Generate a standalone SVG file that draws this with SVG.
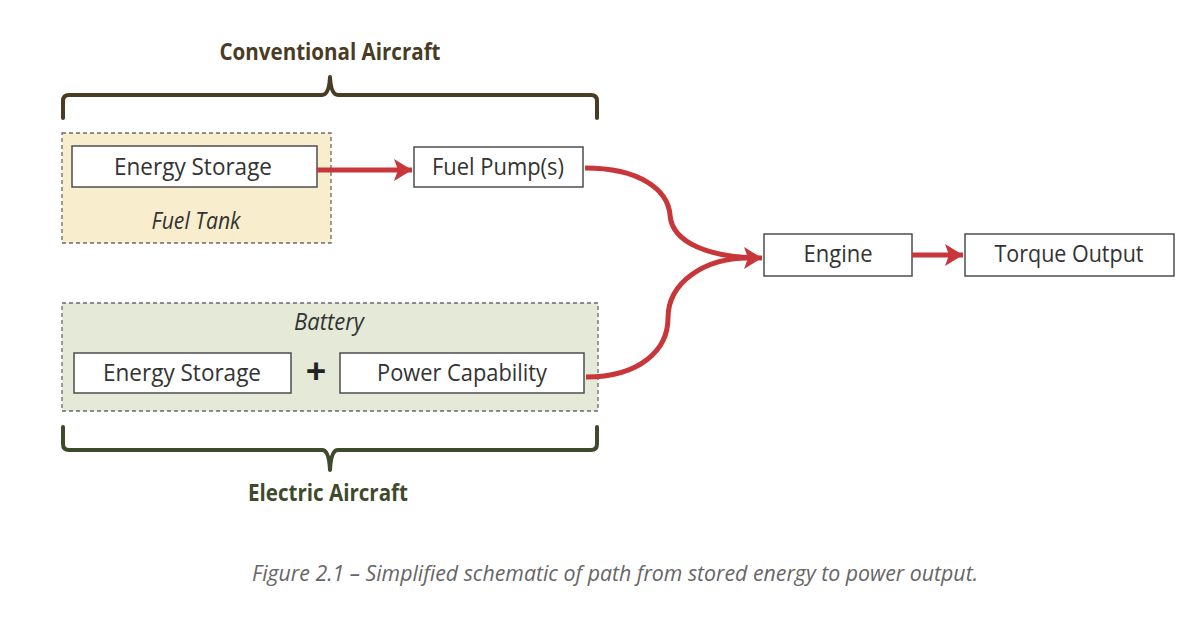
<svg xmlns="http://www.w3.org/2000/svg" width="1200" height="617" viewBox="0 0 1200 617">
<style>
.bg{fill:#ffffff}
.box{fill:#ffffff;stroke:#4d4d4d;stroke-width:1.5}
.grp{stroke:#6a6a6a;stroke-width:1.3;stroke-dasharray:4 3}
.lbl{font-family:"Open Sans","Noto Sans",sans-serif;font-size:23px;fill:#333333;text-anchor:middle}
.it{font-style:italic}
.title{font-family:"Open Sans","Noto Sans",sans-serif;font-size:24px;font-weight:bold;text-anchor:middle}
.plus{font-family:"Open Sans","Noto Sans",sans-serif;font-size:36px;font-weight:bold;fill:#222222;text-anchor:middle}
.cap{font-family:"Open Sans","Noto Sans",sans-serif;font-size:22px;font-style:italic;fill:#666666;text-anchor:middle}
.conn{fill:none;stroke:#c8363a;stroke-width:5}
.brace{fill:none;stroke-width:4;stroke-linecap:round;stroke-linejoin:round}
</style>
<defs>
<marker id="ah" markerUnits="userSpaceOnUse" markerWidth="20" markerHeight="22" refX="18" refY="11" orient="auto" viewBox="0 0 20 22">
<polygon points="0,0 18,11 0,22 4,11" fill="#c8363a"/>
</marker>
</defs>
<rect class="bg" x="0" y="0" width="1200" height="617"/>

<g id="conventional-brace">
<path class="brace" stroke="#4a3c24" d="M63,118 V101 Q63,95 69,95 H322 Q329,95 330,77 Q331,95 338,95 H591 Q597,95 597,101 V118"/>
<text class="title" fill="#4a3c24" x="330" y="60" textLength="221" lengthAdjust="spacingAndGlyphs">Conventional Aircraft</text>
</g>

<g id="fuel-tank">
<rect class="grp" x="62" y="133" width="269" height="110" fill="#f8edcd"/>
<text class="lbl it" x="196" y="229" textLength="89" lengthAdjust="spacingAndGlyphs">Fuel Tank</text>
</g>
<g id="energy-storage-fuel">
<rect class="box" x="72" y="146" width="245" height="41"/>
<text class="lbl" x="193" y="175" textLength="158" lengthAdjust="spacingAndGlyphs">Energy Storage</text>
</g>
<g id="fuel-pumps">
<rect class="box" x="414" y="147" width="169" height="40"/>
<text class="lbl" x="498" y="175" textLength="132" lengthAdjust="spacingAndGlyphs">Fuel Pump(s)</text>
</g>
<g id="engine">
<rect class="box" x="764" y="234" width="148" height="42"/>
<text class="lbl" x="838" y="262" textLength="69" lengthAdjust="spacingAndGlyphs">Engine</text>
</g>
<g id="torque-output">
<rect class="box" x="965" y="234" width="209" height="42"/>
<text class="lbl" x="1069" y="262" textLength="149" lengthAdjust="spacingAndGlyphs">Torque Output</text>
</g>

<g id="battery">
<rect class="grp" x="62" y="303" width="536" height="108" fill="#e4ead7"/>
<text class="lbl it" x="329" y="330" textLength="70" lengthAdjust="spacingAndGlyphs">Battery</text>
<text class="plus" x="316" y="384">+</text>
</g>
<g id="energy-storage-battery">
<rect class="box" x="74" y="353" width="217" height="40"/>
<text class="lbl" x="182" y="381" textLength="158" lengthAdjust="spacingAndGlyphs">Energy Storage</text>
</g>
<g id="power-capability">
<rect class="box" x="340" y="353" width="244" height="40"/>
<text class="lbl" x="462" y="381" textLength="170" lengthAdjust="spacingAndGlyphs">Power Capability</text>
</g>

<g id="electric-brace">
<path class="brace" stroke="#3e4a2c" d="M63,427 V444 Q63,450 69,450 H322 Q329,450 330,470 Q331,450 338,450 H591 Q597,450 597,444 V427"/>
<text class="title" fill="#3e4a2c" x="328" y="501" textLength="160" lengthAdjust="spacingAndGlyphs">Electric Aircraft</text>
</g>

<g id="connectors">
<path class="conn" marker-end="url(#ah)" d="M317,170 H412"/>
<path class="conn" marker-end="url(#ah)" d="M585,168 C640,168 668,190 670,215 C672,243 710,258 762,258"/>
<path class="conn" d="M586,377 C640,377 668,350 668,318 C668,282 705,258 748,258"/>
<path class="conn" marker-end="url(#ah)" d="M912,255 H963"/>
</g>

<text class="cap" x="615" y="581" textLength="726" lengthAdjust="spacingAndGlyphs">Figure 2.1 – Simplified schematic of path from stored energy to power output.</text>
</svg>
